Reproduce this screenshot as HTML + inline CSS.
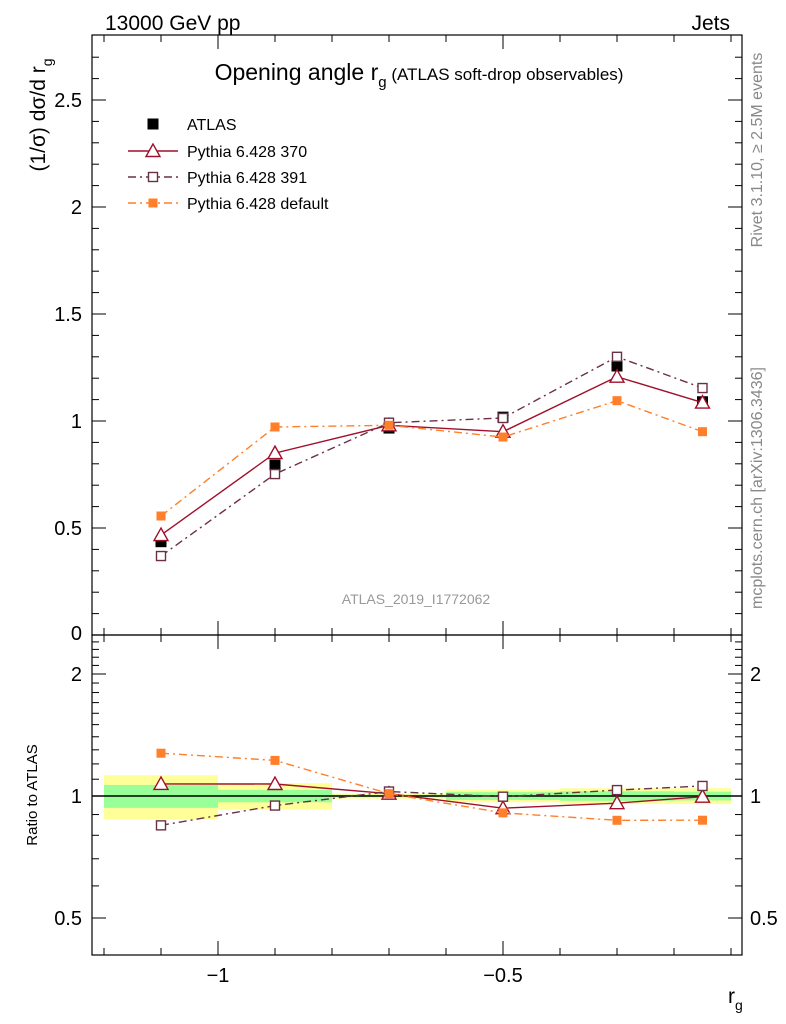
<!DOCTYPE html>
<html><head><meta charset="utf-8"><style>
body{margin:0;background:#fff;}
svg{display:block;font-family:"Liberation Sans",sans-serif;}
</style></head><body>
<svg id="chart" width="786" height="1024" viewBox="0 0 786 1024" xmlns="http://www.w3.org/2000/svg">
<text x="105" y="30" font-size="21">13000 GeV pp</text>
<text x="730" y="30" font-size="21" text-anchor="end">Jets</text>
<text transform="translate(45,115) rotate(-90)" font-size="21" text-anchor="middle">(1/σ) dσ/d r<tspan font-size="14" dy="7">g</tspan></text>
<text transform="translate(37,795) rotate(-90)" font-size="15" text-anchor="middle">Ratio to ATLAS</text>
<text x="728" y="1003" font-size="21">r<tspan font-size="14" dy="7">g</tspan></text>
<text transform="translate(762,150) rotate(-90)" font-size="16" fill="#888" text-anchor="middle">Rivet 3.1.10, ≥ 2.5M events</text>
<text transform="translate(762,488) rotate(-90)" font-size="16" fill="#888" text-anchor="middle">mcplots.cern.ch [arXiv:1306.3436]</text>
<text x="419" y="80" font-size="23" text-anchor="middle">Opening angle r<tspan font-size="15" dy="7">g</tspan><tspan font-size="17" dy="-7"> (ATLAS soft-drop observables)</tspan></text>
<text x="416" y="604" font-size="14" fill="#999" text-anchor="middle">ATLAS_2019_I1772062</text>
<g id="legend"></g>
<g id="main"></g>
<g id="ratio"></g>
</svg>
<script>
const xCenters=[-1.1,-0.9,-0.7,-0.5,-0.3,-0.15];
const xEdgesLo=[-1.2,-1.0,-0.8,-0.6,-0.4,-0.2];
const xEdgesHi=[-1.0,-0.8,-0.6,-0.4,-0.2,-0.1];
const atlas=[0.436,0.794,0.967,1.018,1.257,1.09];
const atlasStatRel=[0.065,0.035,0.007,0.022,0.027,0.025];
const atlasTotRel=[0.125,0.075,0.015,0.035,0.045,0.045];
const py370=[0.467,0.85,0.98,0.95,1.207,1.086];
const py391=[0.369,0.752,0.992,1.014,1.30,1.154];
const pyDef=[0.556,0.972,0.98,0.925,1.095,0.95];
const mainTicks=[0.5,1,1.5,2,2.5];
const mainTickLabels=["0.5","1","1.5","2","2.5"];
const ratioTicks=[0.5,1,2];
const ratioTickLabels=["0.5","1","2"];
const xTicks=[-1,-0.5];
const xTickLabels=["−1","−0.5"];

const NS="http://www.w3.org/2000/svg";
const L=92,R=742,T=35,MB=635,RB=955;
const X=v=>218+(v+1)*570;
const Y=v=>635-v*214;
const YR=r=>796-122*Math.log2(r);
function mk(parent,tag,attrs){const e=document.createElementNS(NS,tag);for(const k in attrs)e.setAttribute(k,attrs[k]);parent.appendChild(e);return e;}
const main=document.getElementById('main'),ratio=document.getElementById('ratio'),leg=document.getElementById('legend');

xCenters.forEach((c,i)=>{
  const x0=X(xEdgesLo[i]),x1=X(xEdgesHi[i]);
  let b=mk(ratio,'rect',{x:x0,y:YR(1+atlasTotRel[i]),width:x1-x0,height:YR(1-atlasTotRel[i])-YR(1+atlasTotRel[i]),fill:'#ffff99'});
  
  
  let g=mk(ratio,'rect',{x:x0,y:YR(1+atlasStatRel[i]),width:x1-x0,height:YR(1-atlasStatRel[i])-YR(1+atlasStatRel[i]),fill:'#99ff99'});
  
  
});
mk(ratio,'line',{x1:L,x2:R,y1:YR(1),y2:YR(1),stroke:'#000','stroke-width':1.5});

mk(main,'rect',{x:L,y:T,width:R-L,height:MB-T,fill:'none',stroke:'#000','stroke-width':1.2});
mk(ratio,'rect',{x:L,y:MB,width:R-L,height:RB-MB,fill:'none',stroke:'#000','stroke-width':1.2});

for(let k=1;k<=27;k++){const v=k/10,y=Y(v),maj=(k%5===0),len=maj?14:7;
  mk(main,'line',{x1:L,x2:L+len,y1:y,y2:y,stroke:'#000'});mk(main,'line',{x1:R,x2:R-len,y1:y,y2:y,stroke:'#000'});}
mainTicks.forEach((v,i)=>{let t=mk(main,'text',{x:82,y:Y(v)+7,'font-size':20,'text-anchor':'end'});t.textContent=mainTickLabels[i];
  
  });
{let t=mk(main,'text',{x:82,y:640,'font-size':20,'text-anchor':'end'});t.textContent="0";}
for(let k=5;k<=25;k++){const r=k/10,y=YR(r);if(y<MB||y>RB)continue;const maj=ratioTicks.includes(r),len=maj?14:7;
  mk(ratio,'line',{x1:L,x2:L+len,y1:y,y2:y,stroke:'#000'});mk(ratio,'line',{x1:R,x2:R-len,y1:y,y2:y,stroke:'#000'});}
ratioTicks.forEach((v,i)=>{
  let t=mk(ratio,'text',{x:82,y:YR(v)+7,'font-size':20,'text-anchor':'end'});t.textContent=ratioTickLabels[i];
  
  
  let t2=mk(ratio,'text',{x:750,y:YR(v)+7,'font-size':20});t2.textContent=ratioTickLabels[i];
  
  });
for(let k=-12;k<=-1;k++){const v=k/10,x=X(v);if(x<L||x>R)continue;const maj=(k%5===0),len=maj?14:7;
  [[T,1],[MB,-1],[MB,1],[RB,-1]].forEach(([y0,d])=>mk(main,'line',{x1:x,x2:x,y1:y0,y2:y0+d*len,stroke:'#000'}));}
xTicks.forEach((v,i)=>{let t=mk(ratio,'text',{x:X(v),y:982,'font-size':20,'text-anchor':'middle'});t.textContent=xTickLabels[i];
  
  });

function marker(g,type,x,y,color){
  if(type==='sq')return mk(g,'rect',{x:x-5.5,y:y-5.5,width:11,height:11,fill:'#000'});
  if(type==='tri')return mk(g,'polygon',{points:`${x},${y-7} ${x-7},${y+5.5} ${x+7},${y+5.5}`,fill:'#fff',stroke:color,'stroke-width':1.4});
  if(type==='osq')return mk(g,'rect',{x:x-4.5,y:y-4.5,width:9,height:9,fill:'#fff',stroke:color,'stroke-width':1.4});
  if(type==='fsq')return mk(g,'rect',{x:x-4.5,y:y-4.5,width:9,height:9,fill:color});
}
const series=[
 {name:'pythia-370',vals:py370,color:'#a0102a',dash:'',m:'tri'},
 {name:'pythia-391',vals:py391,color:'#6b3046',dash:'8,4,2,4',m:'osq'},
 {name:'pythia-default',vals:pyDef,color:'#ff7f2a',dash:'8,4,2,4',m:'fsq'}];
atlas.forEach((v,i)=>{let m=marker(main,'sq',X(xCenters[i]),Y(v));
  
  });
series.forEach(s=>{
  let pts=s.vals.map((v,i)=>X(xCenters[i])+','+Y(v)).join(' ');
  let l=mk(main,'polyline',{points:pts,fill:'none',stroke:s.color,'stroke-width':1.4,'stroke-dasharray':s.dash});
  
  
  let rp=s.vals.map((v,i)=>X(xCenters[i])+','+YR(v/atlas[i])).join(' ');
  let rl=mk(ratio,'polyline',{points:rp,fill:'none',stroke:s.color,'stroke-width':1.4,'stroke-dasharray':s.dash});
  
  
  s.vals.forEach((v,i)=>{let m=marker(main,s.m,X(xCenters[i]),Y(v),s.color);
    
    
    let m2=marker(ratio,s.m,X(xCenters[i]),YR(v/atlas[i]),s.color);
    
    });
});
const legNames=['ATLAS','Pythia 6.428 370','Pythia 6.428 391','Pythia 6.428 default'];
const legY=[124,151,177,203];
{let m=marker(leg,'sq',153,legY[0]);let t=mk(leg,'text',{x:187,y:legY[0]+6,'font-size':16});t.textContent=legNames[0];
 
 }
series.forEach((s,i)=>{const y=legY[i+1];
  mk(leg,'line',{x1:128,x2:178,y1:y,y2:y,stroke:s.color,'stroke-width':1.4,'stroke-dasharray':s.dash});
  marker(leg,s.m,153,y,s.color);
  let t=mk(leg,'text',{x:187,y:y+6,'font-size':16});t.textContent=legNames[i+1];
  
  });
</script>
</body></html>
